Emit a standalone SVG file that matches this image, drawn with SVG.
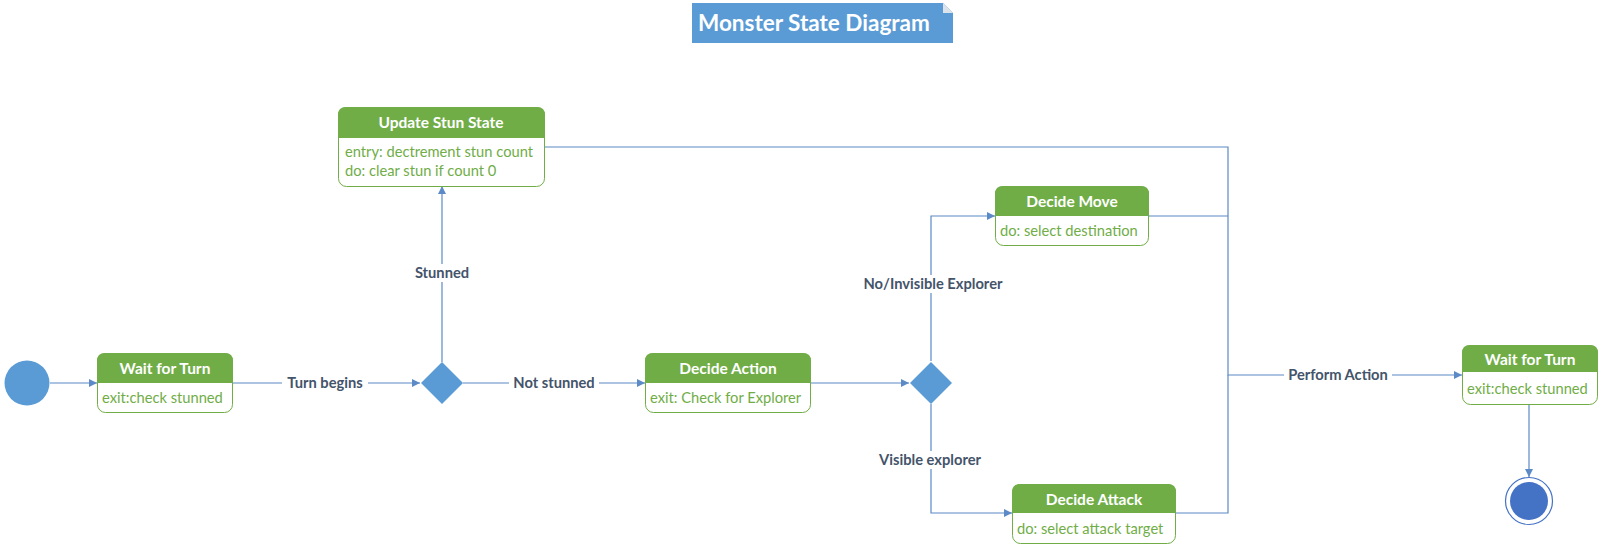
<svg xmlns="http://www.w3.org/2000/svg" width="1601" height="547" viewBox="0 0 1601 547">
<style>
.hdr{fill:#70AD47}
.box{fill:#FFFFFF;stroke:#70AD47;stroke-width:1}
.ht{font-family:Lato,"Open Sans",sans-serif;font-weight:bold;font-size:15.5px;fill:#FFFFFF;text-anchor:middle}
.bt{font-family:Lato,"Open Sans",sans-serif;font-size:14.7px;fill:#70AD47}
.ln{fill:none;stroke:#5B8AC6;stroke-width:1.2}
.lbl{font-family:Lato,"Open Sans",sans-serif;font-weight:bold;font-size:14.7px;fill:#44546A;text-anchor:middle}
.lb{fill:#FFFFFF}
.dia{fill:#5B9BD5}
</style>
<defs>
<marker id="arr" viewBox="0 0 10 10" refX="10" refY="5" markerWidth="8" markerHeight="8" markerUnits="userSpaceOnUse" orient="auto">
<path d="M0,0 L10,5 L0,10 Z" fill="#5B8AC6"/>
</marker>
</defs>
<rect width="1601" height="547" fill="#FFFFFF"/>

<g id="title">
<path d="M692,3 L943,3 L953,13 L953,43 L692,43 Z" fill="#5B9BD5"/>
<path d="M943,3 L953,13 L943,13 Z" fill="#DDE3EA"/>
<text x="698" y="31" font-family="Lato,'Open Sans',sans-serif" font-weight="bold" font-size="22.5" fill="#FFFFFF">Monster State Diagram</text>
</g>

<g id="connectors">
<path class="ln" d="M50,383 L97,383" marker-end="url(#arr)"/>
<path class="ln" d="M232,383 L420,383" marker-end="url(#arr)"/>
<path class="ln" d="M442,362 L442,186" marker-end="url(#arr)"/>
<path class="ln" d="M463,383 L645,383" marker-end="url(#arr)"/>
<path class="ln" d="M810,383 L909,383" marker-end="url(#arr)"/>
<path class="ln" d="M931,361 L931,216 L995,216" marker-end="url(#arr)"/>
<path class="ln" d="M931,404 L931,513 L1012,513" marker-end="url(#arr)"/>
<path class="ln" d="M544,147 L1228,147 L1228,375 L1462,375" marker-end="url(#arr)"/>
<path class="ln" d="M1148,216 L1228,216"/>
<path class="ln" d="M1175,513 L1228,513 L1228,375"/>
<path class="ln" d="M1529,405 L1529,477" marker-end="url(#arr)"/>
<rect class="lb" x="282" y="374" width="86" height="18"/>
<text class="lbl" x="325" y="388">Turn begins</text>
<rect class="lb" x="411" y="264" width="62" height="18"/>
<text class="lbl" x="442" y="278">Stunned</text>
<rect class="lb" x="509" y="374" width="90" height="18"/>
<text class="lbl" x="554" y="388">Not stunned</text>
<rect class="lb" x="855" y="275" width="156" height="18"/>
<text class="lbl" x="933" y="289">No/Invisible Explorer</text>
<rect class="lb" x="870" y="451" width="120" height="18"/>
<text class="lbl" x="930" y="465">Visible explorer</text>
<rect class="lb" x="1284" y="366" width="108" height="18"/>
<text class="lbl" x="1338" y="380">Perform Action</text>
</g>

<g id="initial">
<circle cx="27" cy="383" r="22.5" fill="#5B9BD5"/>
</g>

<g id="wait1">
<rect class="box" x="97.5" y="353.5" width="135" height="59" rx="8"/>
<path class="hdr" d="M97,383 L97,361 Q97,353 105,353 L225,353 Q233,353 233,361 L233,383 Z"/>
<text class="ht" x="165" y="374">Wait for Turn</text>
<text class="bt" x="102" y="403">exit:check stunned</text>
</g>

<g id="stun">
<rect class="box" x="338.5" y="107.5" width="206" height="79" rx="8"/>
<path class="hdr" d="M338,138 L338,115 Q338,107 346,107 L537,107 Q545,107 545,115 L545,138 Z"/>
<text class="ht" x="441" y="128">Update Stun State</text>
<text class="bt" x="345" y="157">entry: dectrement stun count</text>
<text class="bt" x="345" y="176">do: clear stun if count 0</text>
</g>

<g id="decision1">
<path class="dia" d="M442,362 L463,383 L442,404 L421,383 Z"/>
</g>

<g id="decideAction">
<rect class="box" x="645.5" y="353.5" width="165" height="59" rx="8"/>
<path class="hdr" d="M645,383 L645,361 Q645,353 653,353 L803,353 Q811,353 811,361 L811,383 Z"/>
<text class="ht" x="728" y="374">Decide Action</text>
<text class="bt" x="650" y="403">exit: Check for Explorer</text>
</g>

<g id="decision2">
<path class="dia" d="M931,362 L952,383 L931,404 L910,383 Z"/>
</g>

<g id="decideMove">
<rect class="box" x="995.5" y="186.5" width="153" height="59" rx="8"/>
<path class="hdr" d="M995,216 L995,194 Q995,186 1003,186 L1141,186 Q1149,186 1149,194 L1149,216 Z"/>
<text class="ht" x="1072" y="207">Decide Move</text>
<text class="bt" x="1000" y="236">do: select destination</text>
</g>

<g id="decideAttack">
<rect class="box" x="1012.5" y="484.5" width="163" height="59" rx="8"/>
<path class="hdr" d="M1012,513 L1012,492 Q1012,484 1020,484 L1168,484 Q1176,484 1176,492 L1176,513 Z"/>
<text class="ht" x="1094" y="505">Decide Attack</text>
<text class="bt" x="1017" y="534">do: select attack target</text>
</g>

<g id="wait2">
<rect class="box" x="1462.5" y="345.5" width="135" height="59" rx="8"/>
<path class="hdr" d="M1462,372 L1462,353 Q1462,345 1470,345 L1590,345 Q1598,345 1598,353 L1598,372 Z"/>
<text class="ht" x="1530" y="365">Wait for Turn</text>
<text class="bt" x="1467" y="394">exit:check stunned</text>
</g>

<g id="final">
<circle cx="1529" cy="501" r="23.5" fill="#FFFFFF" stroke="#4472C4" stroke-width="1.2"/>
<circle cx="1529" cy="501" r="19" fill="#4472C4"/>
</g>
</svg>
